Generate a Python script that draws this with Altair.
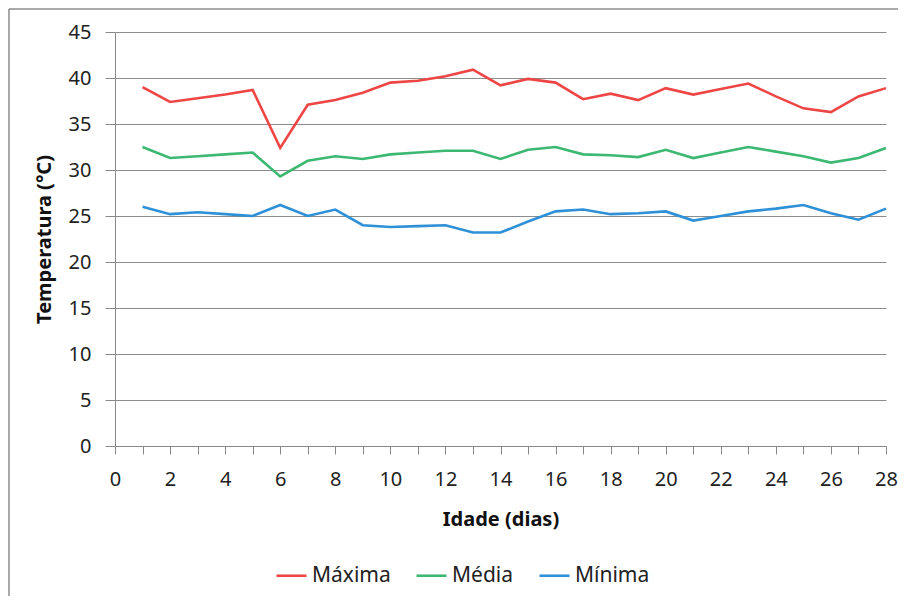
import altair as alt
import pandas as pd

days = list(range(1, 29))
maxima = [39.0, 37.4, 37.8, 38.2, 38.7, 32.4, 37.1, 37.6, 38.4, 39.5, 39.7, 40.2, 40.9, 39.2,
          39.9, 39.5, 37.7, 38.3, 37.6, 38.9, 38.2, 38.8, 39.4, 38.0, 36.7, 36.3, 38.0, 38.9]
media = [32.5, 31.3, 31.5, 31.7, 31.9, 29.3, 31.0, 31.5, 31.2, 31.7, 31.9, 32.1, 32.1, 31.2,
         32.2, 32.5, 31.7, 31.6, 31.4, 32.2, 31.3, 31.9, 32.5, 32.0, 31.5, 30.8, 31.3, 32.4]
minima = [26.0, 25.2, 25.4, 25.2, 25.0, 26.2, 25.0, 25.7, 24.0, 23.8, 23.9, 24.0, 23.2, 23.2,
          24.4, 25.5, 25.7, 25.2, 25.3, 25.5, 24.5, 25.0, 25.5, 25.8, 26.2, 25.3, 24.6, 25.8]
series_names = ["Máxima", "Média", "Mínima"]
series_colors = ["#EE4545", "#3DB872", "#2E90D6"]
x_ticks = list(range(0, 29))
y_ticks = list(range(0, 50, 5))

rows = []
for name, vals in zip(series_names, [maxima, media, minima]):
    for d, v in zip(days, vals):
        rows.append({"dia": d, "temp": v, "serie": name})
df = pd.DataFrame(rows)

FONT = "Noto Sans"

lines = alt.Chart(df).mark_line(strokeWidth=2.6).encode(
    x=alt.X("dia:Q", scale=alt.Scale(domain=[0, 28], nice=False),
            axis=alt.Axis(values=x_ticks, title="Idade (dias)", grid=False,
                          labelExpr="datum.value % 2 == 0 ? datum.label : ''",
                          labelFlush=False, labelOverlap=False,
                          tickSize=8, labelPadding=15, titlePadding=20)),
    y=alt.Y("temp:Q", scale=alt.Scale(domain=[0, 45], nice=False),
            axis=alt.Axis(values=y_ticks, title="Temperatura (°C)", grid=True,
                          tickSize=10, labelPadding=14, titlePadding=14)),
    color=alt.Color("serie:N", scale=alt.Scale(domain=series_names, range=series_colors),
                    sort=series_names,
                    legend=alt.Legend(title=None, orient="none", direction="horizontal",
                                      legendX=160, legendY=527, symbolType="stroke",
                                      symbolSize=900, symbolStrokeWidth=2.6,
                                      labelFontSize=21, labelFont=FONT, labelColor="#222",
                                      columnPadding=20, labelOffset=4)),
)

frame = alt.Chart(pd.DataFrame({"a": [0]})).mark_rect(filled=False, stroke="#555", strokeWidth=1).encode(
    x=alt.value(-106), x2=alt.value(800), y=alt.value(-23), y2=alt.value(600)
)

chart = alt.layer(frame, lines).properties(
    width=771, height=414,
    autosize=alt.AutoSizeParams(type="none"),
    padding={"left": 107, "top": 24, "right": 12, "bottom": 150},
).configure_view(stroke=None).configure_axis(
    domainColor="#888", tickColor="#888", gridColor="#8c8c8c", gridWidth=1,
    labelFont=FONT, labelFontSize=20, labelColor="#222",
    titleFont=FONT, titleFontSize=20, titleFontWeight="bold", titleColor="#111",
)

chart.save("out.html", embed_options={"renderer": "svg", "actions": False})
